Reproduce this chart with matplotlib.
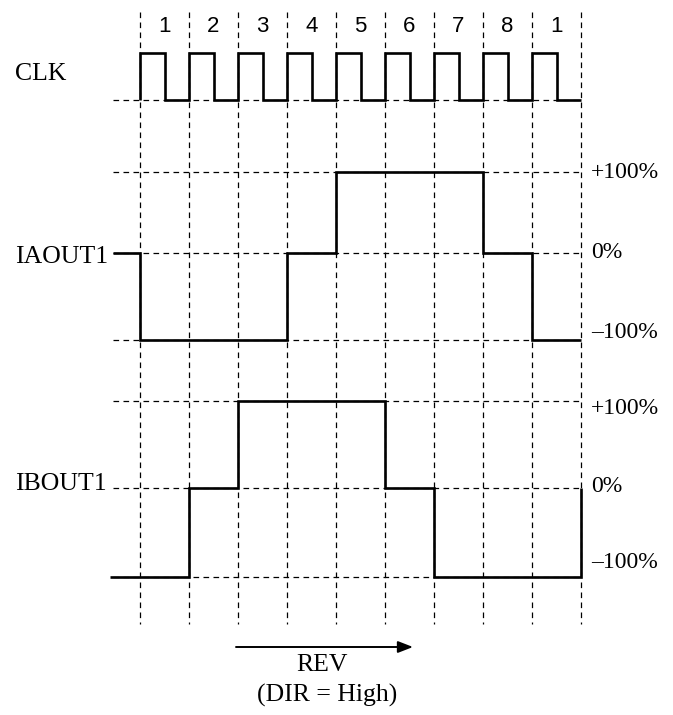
import numpy as np
import matplotlib
matplotlib.use("Agg")
import matplotlib.pyplot as plt

# ---- data ----
step_labels = ['1', '2', '3', '4', '5', '6', '7', '8', '1']
clk_levels = [1, 0] * 9                      # high/low per half step
iaout1 = [0, -100, -100, -100, 0, 100, 100, 100, 0, -100]        # pre-segment + 9 steps
ibout1 = [-100, -100, 0, 100, 100, 100, 0, -100, -100, -100]     # pre-segment + 9 steps
ibout1_end = 0
level_labels = ['+100%', '0%', '\u2013100%']
level_values = [100, 0, -100]

# ---- layout (pixels) ----
W, H = 673, 715
X0, STEP = 140, 49
def px2x(px):
    return (px - X0) / STEP

fig = plt.figure(figsize=(W / 100, H / 100), dpi=100)
ax = fig.add_axes([0, 0, 1, 1])
ax.set_xlim(px2x(0), px2x(W))
ax.set_ylim(H, 0)
ax.axis('off')

serif = 'Liberation Serif'
sans = 'Liberation Sans'
dash = dict(color='black', lw=0.9, linestyle=(0, (4.5, 3.5)), zorder=1)
sig = dict(color='black', lw=1.9, zorder=3, solid_joinstyle='miter', solid_capstyle='butt')

n = len(step_labels)
# vertical grid lines
for k in range(n + 1):
    ax.plot([k, k], [12, 624], **dash)
# step numbers
for k, lab in enumerate(step_labels):
    ax.text(k + 0.5, 27, lab, family=sans, fontsize=16, ha='center', va='center')

x_left = px2x(113)

# CLK
clk_hi, clk_lo = 53, 100
ax.plot([x_left, n], [clk_lo, clk_lo], **dash)
xs, ys = [0], [clk_lo]
for i, v in enumerate(clk_levels):
    y = clk_hi if v else clk_lo
    xs += [i * 0.5, (i + 1) * 0.5]
    ys += [y, y]
ax.plot(xs, ys, **sig)
ax.text(px2x(15), 74, 'CLK', family=serif, fontsize=18.5, ha='left', va='center')

def level_map(vals, ypos):
    # ypos: pixel rows of +100, 0, -100
    return np.interp(vals, [-100, 0, 100], [ypos[2], ypos[1], ypos[0]])

def draw_signal(vals, start_px, ypos, end_val=None):
    edges = [px2x(start_px)] + list(range(0, n + 1))
    yv = level_map(vals, ypos)
    xs, ys = [], []
    for i, y in enumerate(yv):
        xs += [edges[i], edges[i + 1]]
        ys += [y, y]
    if end_val is not None:
        xs.append(edges[-1])
        ys.append(level_map([end_val], ypos)[0])
    ax.plot(xs, ys, **sig)

def draw_levels(ypos, label_y):
    for y in ypos:
        ax.plot([x_left, n], [y, y], **dash)
    for lab, y in zip(level_labels, label_y):
        ax.text(px2x(591), y, lab, family=serif, fontsize=17, ha='left', va='center')

# IAOUT1
ya = [172, 253, 340]
draw_levels(ya, [173, 253, 333])
draw_signal(iaout1, 113, ya)
ax.text(px2x(15), 257, 'IAOUT1', family=serif, fontsize=18.5, ha='left', va='center')

# IBOUT1
yb = [401, 488, 577]
draw_levels(yb, [408, 487, 562])
draw_signal(ibout1, 110, yb, end_val=ibout1_end)
ax.text(px2x(15), 484, 'IBOUT1', family=serif, fontsize=18.5, ha='left', va='center')

# REV arrow
ax.annotate('', xy=(px2x(413), 647), xytext=(px2x(236), 647),
            arrowprops=dict(arrowstyle='-|>,head_length=0.9,head_width=0.35',
                            color='black', lw=1.4, shrinkA=0, shrinkB=0))
ax.text(px2x(322), 665, 'REV', family=serif, fontsize=18.5, ha='center', va='center')
ax.text(px2x(327), 695, '(DIR = High)', family=serif, fontsize=18.5, ha='center', va='center')

fig.savefig('out.png', dpi=100)
